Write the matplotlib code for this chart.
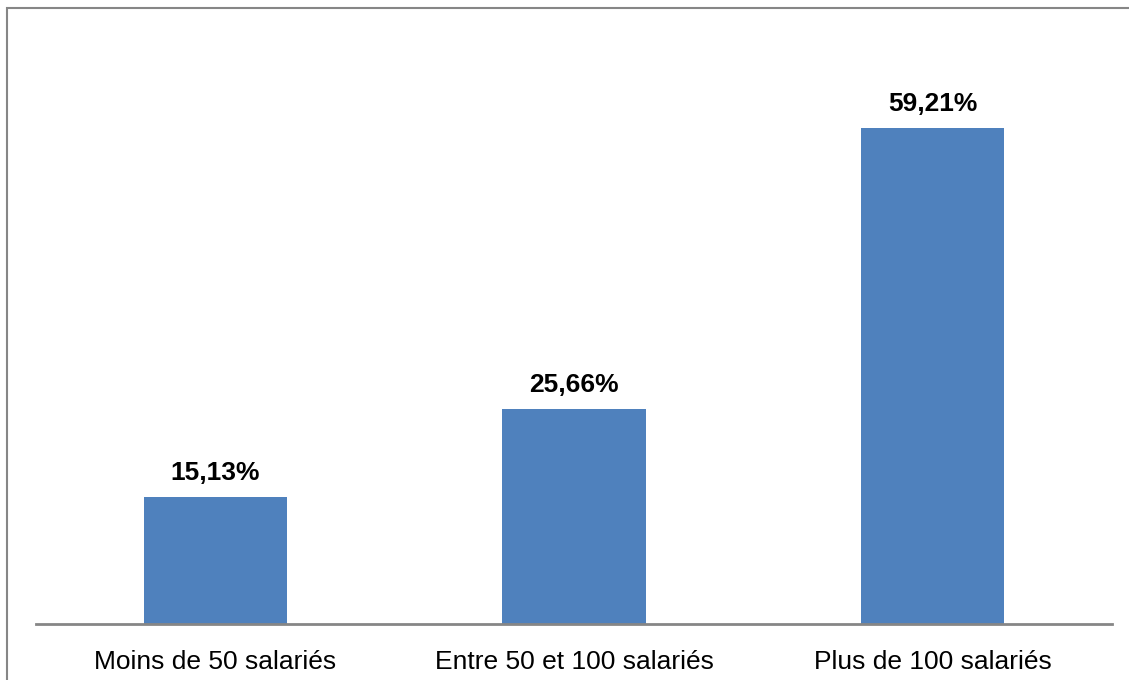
import matplotlib.pyplot as plt
from matplotlib.patches import Rectangle

categories = ["Moins de 50 salariés", "Entre 50 et 100 salariés", "Plus de 100 salariés"]
values = [15.13, 25.66, 59.21]
labels = ["15,13%", "25,66%", "59,21%"]

plt.rcParams['font.family'] = ['Liberation Sans', 'DejaVu Sans']

fig = plt.figure(figsize=(11.29, 6.8), dpi=100)
ax = fig.add_axes([36 / 1129, 1 - 624 / 680, 1076 / 1129, 586 / 680])

x = range(len(categories))
ax.bar(x, values, width=0.4, color='#4f81bd')
for i, v in enumerate(values):
    ax.text(i, v + 1.5, labels[i], ha='center', va='bottom', fontsize=19, fontweight='bold')

ax.set_xlim(-0.5, 2.5)
ax.set_ylim(0, 70)
ax.set_xticks(list(x))
ax.set_xticklabels(categories, fontsize=19)
ax.tick_params(axis='x', length=0, pad=19)
ax.set_yticks([])
for s in ['top', 'right', 'left']:
    ax.spines[s].set_visible(False)
ax.spines['bottom'].set_color('#868686')
ax.spines['bottom'].set_linewidth(2)

fig.patches.append(Rectangle((6.5 / 1129, -0.1), 1.2, 1 - 8.5 / 680 + 0.1, transform=fig.transFigure,
                             fill=False, edgecolor='#868686', linewidth=1.5))

fig.savefig('out.png', dpi=100)
